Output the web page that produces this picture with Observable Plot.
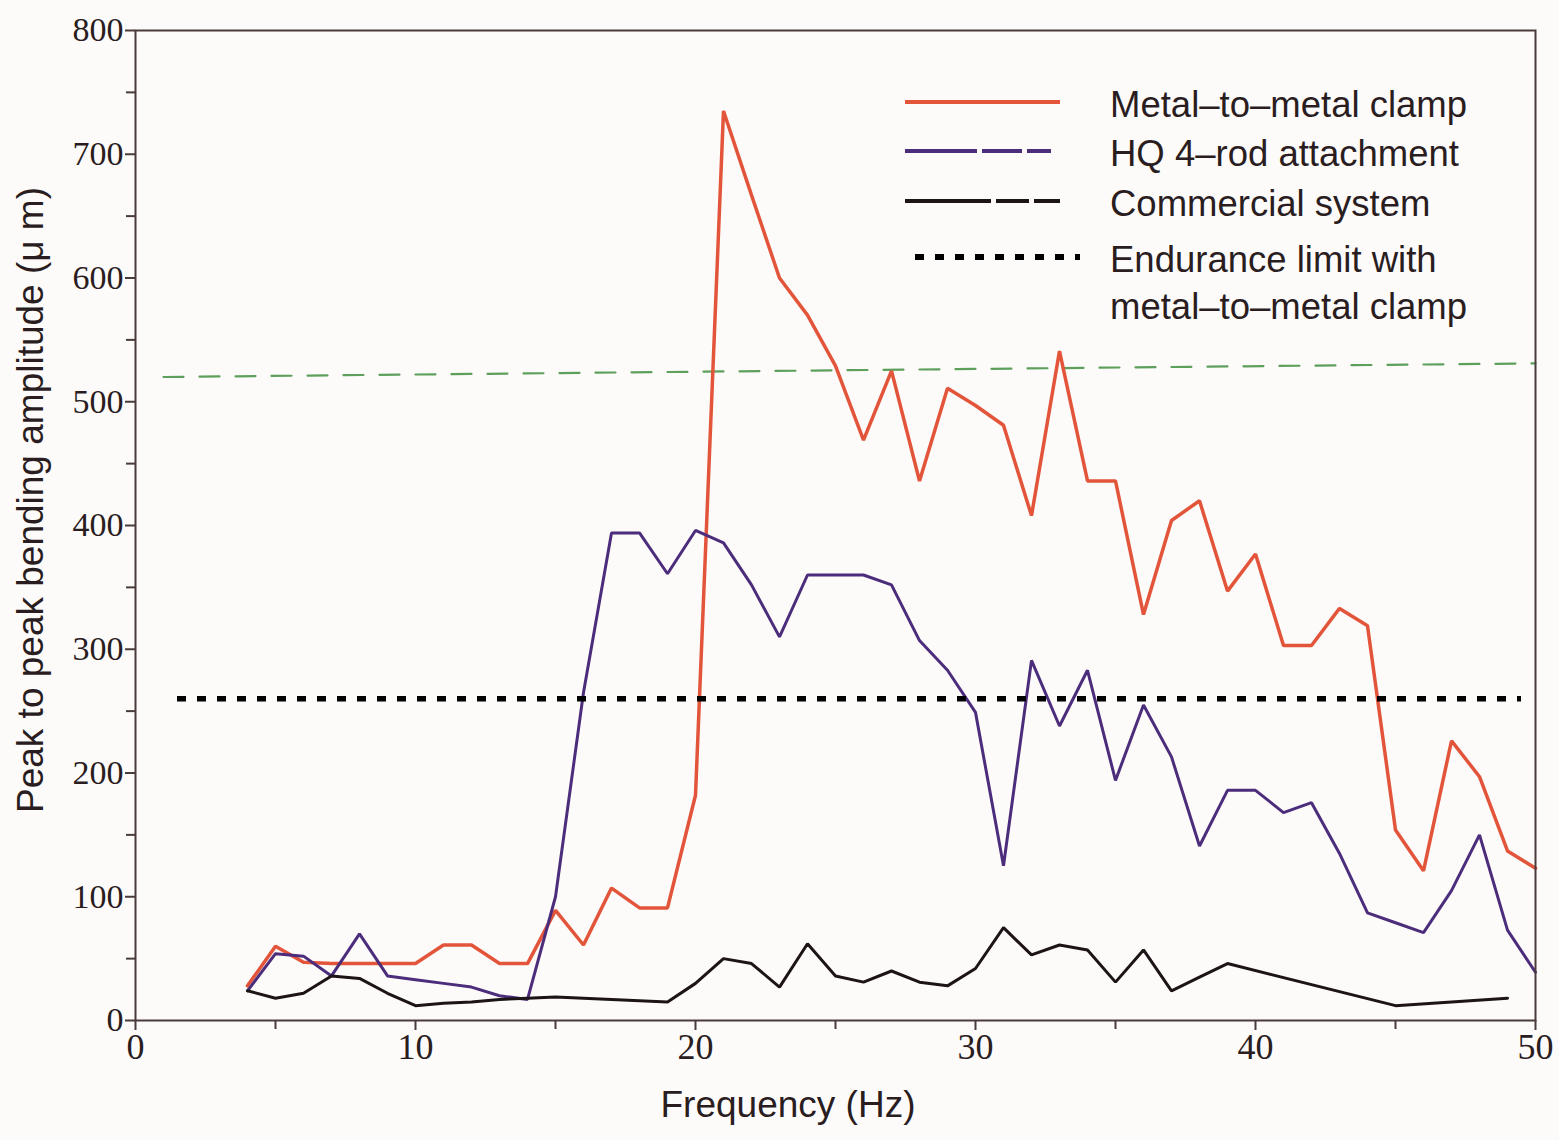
<!DOCTYPE html>
<html><head><meta charset="utf-8">
<script src="https://cdn.jsdelivr.net/npm/d3@7"></script>
<script src="https://cdn.jsdelivr.net/npm/@observablehq/plot@0.6"></script>
<style>
html,body{margin:0;padding:0;background:#fdfbf9;}
#wrap{position:relative;width:1559px;height:1140px;}
#legend{position:absolute;left:0;top:0;pointer-events:none;}
</style></head><body><div id="wrap"></div>
<script>
// ---- data ----
const freq = [4,5,6,7,8,9,10,11,12,13,14,15,16,17,18,19,20,21,22,23,24,25,26,27,28,29,30,31,32,33,34,35,36,37,38,39,40,41,42,43,44,45,46,47,48,49,50];
const metalClamp = [28,60,47,46,46,46,46,61,61,46,46,89,61,107,91,91,182,735,667,600,570,529,469,525,436,511,497,481,408,541,436,436,328,404,420,347,377,303,303,333,319,154,121,226,197,137,123];
const hqRod = [24,54,52,36,70,36,33,30,27,20,17,100,265,394,394,361,396,386,352,310,360,360,360,352,307,283,249,125,291,238,283,194,255,213,141,186,186,168,176,135,87,79,71,105,150,73,39];
const commercialFreq = [4,5,6,7,8,9,10,11,12,13,14,15,16,17,18,19,20,21,22,23,24,25,26,27,28,29,30,31,32,33,34,35,36,37,38,39,45,49];
const commercial = [24,18,22,36,34,22,12,14,15,17,18,19,18,17,16,15,30,50,46,27,62,36,31,40,31,28,42,75,53,61,57,31,57,24,35,46,12,18];
const enduranceLimit = 260;
const enduranceFreq = [1.5, 49.5];
const refLineFreq = [1, 50];
const refLineAmp = [520, 531];
const seriesNames = ["Metal\u2013to\u2013metal clamp", "HQ 4\u2013rod attachment", "Commercial system"];
const enduranceLabel = ["Endurance limit with", "metal\u2013to\u2013metal clamp"];
const seriesColors = ["#e2553b", "#4b2d7c", "#1c1417"];
const xTicks = [0,10,20,30,40,50];
const xMinorTicks = [5,15,25,35,45];
const yTicks = [0,100,200,300,400,500,600,700,800];
const yMinorTicks = [50,150,250,350,450,550,650,750];
const xLabel = "Frequency (Hz)";
const yLabel = "Peak to peak bending amplitude (\u03bc m)";

// ---- tables ----
const redData = freq.map((f,i)=>({f, v: metalClamp[i]}));
const purpleData = freq.map((f,i)=>({f, v: hqRod[i]}));
const blackData = commercialFreq.map((f,i)=>({f, v: commercial[i]}));
const refData = refLineFreq.map((f,i)=>({f, v: refLineAmp[i]}));

const axisColor = "#4a3b3b";
const textColor = "#2a1d1f";
const sans = "'Liberation Sans', Arial, sans-serif";
const serif = "'Liberation Serif', 'Times New Roman', serif";

const chart = Plot.plot({
  width: 1559, height: 1140,
  marginLeft: 135, marginRight: 24, marginTop: 30, marginBottom: 120,
  x: {domain: [0, 50]},
  y: {domain: [0, 800]},
  style: {background: "transparent", overflow: "visible"},
  marks: [
    Plot.line(refData, {x: "f", y: "v", stroke: "#3f8f3f", strokeWidth: 2.2, strokeOpacity: 0.85, strokeDasharray: "20 16"}),
    Plot.line(redData, {x: "f", y: "v", stroke: seriesColors[0], strokeWidth: 3.5, strokeLinejoin: "miter"}),
    Plot.line(purpleData, {x: "f", y: "v", stroke: seriesColors[1], strokeWidth: 3, strokeLinejoin: "miter"}),
    Plot.line(blackData, {x: "f", y: "v", stroke: seriesColors[2], strokeWidth: 3, strokeLinejoin: "miter"}),
    Plot.ruleY([enduranceLimit], {x1: enduranceFreq[0], x2: enduranceFreq[1], stroke: "#000", strokeWidth: 5.5, strokeDasharray: "9 11"}),
    Plot.frame({stroke: axisColor, strokeWidth: 2}),
    Plot.axisX({ticks: xTicks, tickSize: 10, tickPadding: 3, fontSize: 36, fontFamily: serif, color: textColor, stroke: axisColor, strokeWidth: 2, label: null}),
    Plot.axisX({ticks: xMinorTicks, tickSize: 9, text: null, stroke: axisColor, strokeWidth: 2, label: null}),
    Plot.axisY({ticks: yTicks, tickSize: 10, tickPadding: 2, fontSize: 34, fontFamily: serif, color: textColor, stroke: axisColor, strokeWidth: 2, label: null}),
    Plot.axisY({ticks: yMinorTicks, tickSize: 9, text: null, stroke: axisColor, strokeWidth: 2, label: null})
  ]
});
document.getElementById("wrap").appendChild(chart);

// ---- overlay: axis titles and legend ----
const ns = "http://www.w3.org/2000/svg";
const leg = document.createElementNS(ns, "svg");
leg.setAttribute("id", "legend");
leg.setAttribute("width", 1559);
leg.setAttribute("height", 1140);
function addText(str, x, y, size, rotate) {
  const tx = document.createElementNS(ns, "text");
  tx.setAttribute("font-family", sans);
  tx.setAttribute("font-size", size);
  tx.setAttribute("fill", textColor);
  tx.setAttribute("dominant-baseline", "central");
  if (rotate) {
    tx.setAttribute("text-anchor", "middle");
    tx.setAttribute("transform", `translate(${x},${y}) rotate(${rotate})`);
  } else {
    tx.setAttribute("x", x); tx.setAttribute("y", y);
  }
  tx.textContent = str;
  leg.appendChild(tx);
  return tx;
}
const xt = addText(xLabel, 788, 1104, 37, 0);
xt.setAttribute("text-anchor", "middle");
addText(yLabel, 30, 500, 37, -90);

const rows = [
  {y: 102, color: seriesColors[0], dash: null, w: 4, text: [seriesNames[0]], x1: 905, x2: 1060},
  {y: 151, color: seriesColors[1], dash: "72 5 40 5 24", w: 4, text: [seriesNames[1]], x1: 905, x2: 1060},
  {y: 201, color: seriesColors[2], dash: "86 5 33 5 26", w: 4, text: [seriesNames[2]], x1: 905, x2: 1060},
  {y: 257, color: "#000", dash: "9 11", w: 6, text: enduranceLabel, x1: 915, x2: 1080}
];
rows.forEach(r => {
  const ln = document.createElementNS(ns, "line");
  ln.setAttribute("x1", r.x1); ln.setAttribute("x2", r.x2);
  ln.setAttribute("y1", r.y); ln.setAttribute("y2", r.y);
  ln.setAttribute("stroke", r.color); ln.setAttribute("stroke-width", r.w);
  if (r.dash) ln.setAttribute("stroke-dasharray", r.dash);
  leg.appendChild(ln);
  r.text.forEach((t, k) => addText(t, 1110, r.y + 2 + k * 47, 36.5, 0));
});
document.getElementById("wrap").appendChild(leg);
</script></body></html>
